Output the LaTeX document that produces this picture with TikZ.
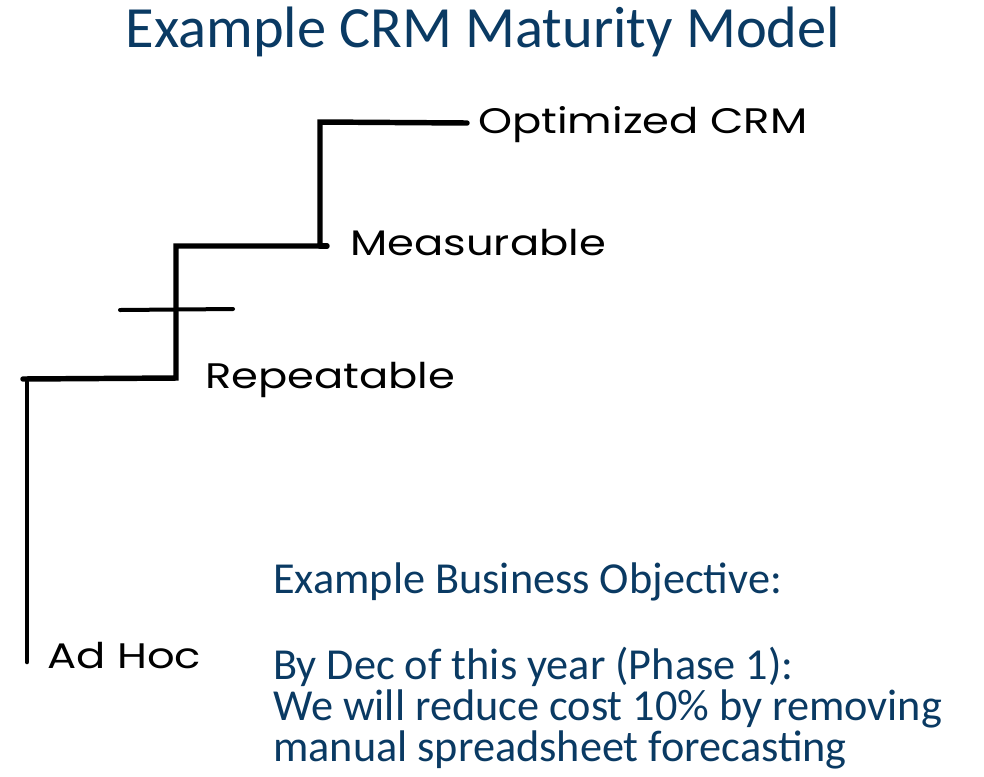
\documentclass[tikz,border=0pt]{standalone}
\usepackage{fontspec}
\setmainfont{Carlito}
\newfontfamily\handfont[FakeStretch=1.22]{Poppins}
\definecolor{navy}{HTML}{0A3A63}
\begin{document}
\begin{tikzpicture}[x=0.75pt,y=-0.75pt,
  stepline/.style={line width=4.1pt,line cap=round,line join=miter,black},
  tickline/.style={line width=3pt,line cap=round,black},
  stagelabel/.style={anchor=base west,inner sep=0pt,font=\handfont\fontsize{26.6}{30}\selectfont},
  heading/.style={anchor=base,inner sep=0pt,text=navy,font=\fontsize{43.8}{51}\selectfont},
  bodytext/.style={anchor=base west,inner sep=0pt,text=navy,align=left,
    font=\fontsize{33.2}{30.4}\selectfont}]
\useasboundingbox (0,0) rectangle (984,776);

% title
\node[heading] (title) at (483,47) {Example CRM Maturity Model};

% staircase corners
\coordinate (adhoc)  at (27,662);
\coordinate (c1)     at (27,382);
\coordinate (c1r)    at (176,378);
\coordinate (c2)     at (176,246);
\coordinate (c2r)    at (320,246);
\coordinate (c3)     at (320,122);
\coordinate (top)    at (467,123);
\coordinate (tickL)  at (120,310);
\coordinate (tickR)  at (233,309);
\coordinate (nub)    at (327,246);

% staircase
\draw[line width=3.4pt,line cap=round] (adhoc) -- (c1);
\draw[stepline] (23,379) -- (c1r) -- (c2) -- (c2r) -- (c3) -- (top);
\draw[stepline] (c2r) -- (nub);
\draw[tickline] (tickL) -- (tickR);

% stage names
\node[stagelabel] (optimized) at (478,133) {Optimized CRM};
\node[stagelabel] (measurable) at (350,255) {Measurable};
\node[stagelabel] (repeatable) at (205,388) {Repeatable};
\node[stagelabel] (adhoclabel) at (47,668) {Ad Hoc};

% objective text
\node[bodytext] (objective) at (273,593) {Example Business Objective:};
\node[bodytext] (goal) at (273,761) {By Dec of this year (Phase 1):\\
We will reduce cost 10\% by removing\\
manual spreadsheet forecasting};
\end{tikzpicture}
\end{document}
